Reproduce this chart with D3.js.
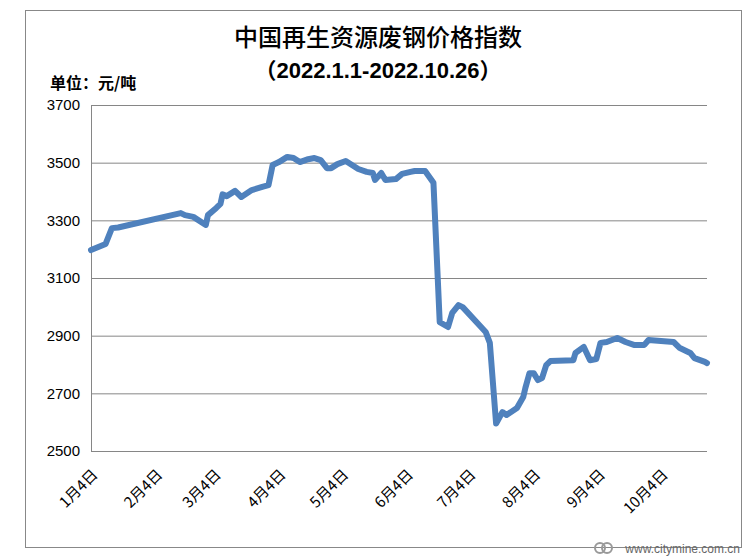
<!DOCTYPE html>
<html><head><meta charset="utf-8">
<script src="https://cdn.jsdelivr.net/npm/d3@7"></script>
<style>
html,body{margin:0;padding:0;background:#fff;}
svg{display:block;}
</style></head>
<body>
<svg id="chart" width="744" height="558"></svg>
<script>
const title = "中国再生资源废钢价格指数";
const subtitleParts = ["（", "2022.1.1-2022.10.26", "）"];
const unitLabel = "单位：元/吨";
const yTicks = [2500, 2700, 2900, 3100, 3300, 3500, 3700];
const xTickDates = ["2022-01-04","2022-02-04","2022-03-04","2022-04-04","2022-05-04","2022-06-04","2022-07-04","2022-08-04","2022-09-04","2022-10-04"];
const xTickLabels = ["1月4日","2月4日","3月4日","4月4日","5月4日","6月4日","7月4日","8月4日","9月4日","10月4日"];
const dates = ["2022-01-04","2022-01-11","2022-01-14","2022-01-17","2022-02-16","2022-02-18","2022-02-22","2022-02-28","2022-03-01","2022-03-05","2022-03-07","2022-03-08","2022-03-10","2022-03-14","2022-03-17","2022-03-22","2022-03-27","2022-03-30","2022-04-01","2022-04-04","2022-04-08","2022-04-11","2022-04-14","2022-04-18","2022-04-21","2022-04-24","2022-04-27","2022-04-29","2022-05-02","2022-05-06","2022-05-12","2022-05-16","2022-05-19","2022-05-20","2022-05-23","2022-05-25","2022-05-30","2022-06-02","2022-06-06","2022-06-08","2022-06-13","2022-06-17","2022-06-20","2022-06-24","2022-06-26","2022-06-29","2022-07-01","2022-07-12","2022-07-14","2022-07-17","2022-07-20","2022-07-22","2022-07-27","2022-07-30","2022-07-31","2022-08-02","2022-08-04","2022-08-06","2022-08-08","2022-08-10","2022-08-12","2022-08-23","2022-08-24","2022-08-28","2022-08-31","2022-09-03","2022-09-05","2022-09-08","2022-09-13","2022-09-17","2022-09-21","2022-09-26","2022-09-28","2022-10-10","2022-10-13","2022-10-18","2022-10-20","2022-10-25","2022-10-26"];
const values = [3197,3218,3273,3275,3325,3318,3312,3284,3318,3343,3357,3390,3384,3402,3381,3405,3416,3422,3492,3502,3520,3516,3502,3512,3516,3509,3481,3481,3495,3506,3478,3468,3464,3440,3464,3440,3443,3461,3468,3471,3471,3430,2947,2930,2979,3006,2999,2913,2875,2595,2635,2625,2649,2687,2718,2770,2770,2746,2753,2798,2812,2815,2840,2861,2815,2819,2875,2878,2892,2878,2868,2868,2885,2878,2857,2840,2822,2809,2805];

const parse = d3.timeParse("%Y-%m-%d");
const data = dates.map((d,i)=>({date:parse(d), value:values[i]}));

const svg = d3.select("#chart");
const mLeft = 91, mRight = 707, mTop = 105, mBottom = 451;

// outer border
svg.append("rect").attr("x",25.5).attr("y",10.5).attr("width",716).attr("height",537)
  .attr("fill","none").attr("stroke","#888").attr("stroke-width",1);

const x = d3.scaleTime().domain([parse("2022-01-04"), parse("2022-10-26")]).range([mLeft, mRight]);
const y = d3.scaleLinear().domain([2500, 3700]).range([mBottom, mTop]);

// gridlines
const gy = svg.append("g").attr("transform",`translate(${mLeft},0)`)
  .call(d3.axisLeft(y).tickValues(yTicks).tickSize(-(mRight-mLeft)).tickFormat(d3.format("d")).tickPadding(11));
gy.select(".domain").remove();
gy.selectAll(".tick line").attr("stroke","#868686").attr("stroke-width",1);
gy.selectAll(".tick text").attr("fill","#000").style("font-family","'Liberation Sans Narrow','Liberation Sans',Arial,sans-serif").style("font-size","15px");

// y axis line
svg.append("line").attr("x1",mLeft+0.5).attr("x2",mLeft+0.5).attr("y1",mTop).attr("y2",mBottom)
  .attr("stroke","#868686").attr("stroke-width",1);

// x labels
const gx = svg.append("g");
gx.selectAll("text").data(xTickDates).join("text")
  .attr("transform",d=>`translate(${x(parse(d))+4},${472}) rotate(-45)`)
  .attr("text-anchor","end")
  .attr("dy","0.35em")
  .style("font-family","'Noto Sans CJK SC',sans-serif")
  .style("font-size","15px")
  .attr("fill","#000")
  .text((d,i)=>xTickLabels[i]);

// line
const line = d3.line().x(d=>x(d.date)).y(d=>y(d.value)).curve(d3.curveLinear);
svg.append("path").datum(data).attr("d",line)
  .attr("fill","none").attr("stroke","#4F81BD").attr("stroke-width",6)
  .attr("stroke-linejoin","round").attr("stroke-linecap","round");

// titles
svg.append("text").attr("x",378).attr("y",46).attr("text-anchor","middle")
  .style("font-family","'Noto Sans CJK SC',sans-serif").style("font-size","24px").style("font-weight","500")
  .text(title);
const sub = svg.append("text").attr("x",378).attr("y",78).attr("text-anchor","middle")
  .style("font-size","22px").style("font-weight","bold");
sub.append("tspan").style("font-family","'Noto Sans CJK SC',sans-serif").text(subtitleParts[0]);
sub.append("tspan").style("font-family","'Liberation Sans Narrow','Liberation Sans',sans-serif").text(subtitleParts[1]);
sub.append("tspan").style("font-family","'Noto Sans CJK SC',sans-serif").text(subtitleParts[2]);
svg.append("text").attr("x",50).attr("y",89)
  .style("font-family","'Noto Sans CJK SC',sans-serif").style("font-size","16px").style("font-weight","bold")
  .text(unitLabel);

// watermark
svg.append("text").attr("x",740).attr("y",553).attr("text-anchor","end")
  .style("font-family","'Liberation Sans',Arial,sans-serif").style("font-size","12px").attr("fill","#666")
  .text("www.citymine.com.cn");
svg.append("circle").attr("cx",600).attr("cy",548).attr("r",5).attr("fill","none").attr("stroke","#999").attr("stroke-width",2);
svg.append("circle").attr("cx",607).attr("cy",548).attr("r",5).attr("fill","none").attr("stroke","#999").attr("stroke-width",2);
</script>
</body></html>
